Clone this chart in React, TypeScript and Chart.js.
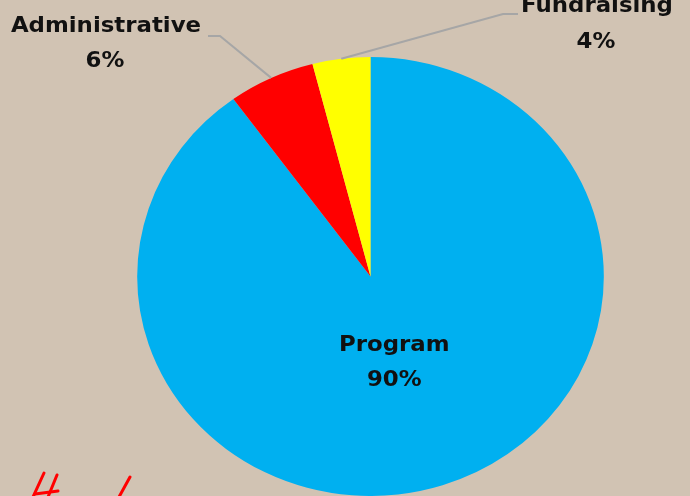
import React, { useEffect, useRef } from "react";
import { Chart, registerables } from "chart.js";

Chart.register(...registerables);

const categories = ["Program", "Administrative", "Fundraising"];
const values = [90, 6, 4];
const percentLabels = ["90%", "6%", "4%"];
const colors = ["#00b0f0", "#ff0000", "#ffff00"];

const BG = "#d1c3b3";
const SX = 1.063;

const stretchPlugin = {
  id: "stretch",
  beforeDatasetsDraw(chart: any) {
    const { ctx, chartArea } = chart;
    const cx = (chartArea.left + chartArea.right) / 2;
    ctx.save();
    ctx.translate(cx, 0);
    ctx.scale(SX, 1);
    ctx.translate(-cx, 0);
  },
  afterDatasetsDraw(chart: any) {
    chart.ctx.restore();
  },
};

const labelPlugin = {
  id: "labels",
  afterDraw(chart: any) {
    const { ctx } = chart;
    const meta = chart.getDatasetMeta(0);
    const font = "bold 21.5px 'DejaVu Sans', sans-serif";
    const pt = (arc: any, frac: number) => {
      const mid = (arc.startAngle + arc.endAngle) / 2;
      const r = arc.outerRadius * frac;
      return { x: arc.x + Math.cos(mid) * r * SX, y: arc.y + Math.sin(mid) * r };
    };
    const text = (t: string, x: number, y: number) => {
      ctx.save();
      ctx.translate(x, y);
      ctx.scale(SX, 1);
      ctx.fillText(t, 0, 0);
      ctx.restore();
    };
    ctx.save();
    ctx.fillStyle = "#111111";
    ctx.textAlign = "center";
    ctx.textBaseline = "middle";
    ctx.font = font;

    // Program label inside
    const p = pt(meta.data[0], 0.33);
    text(categories[0], p.x, p.y);
    text(percentLabels[0], p.x, p.y + 35);

    // leader lines
    ctx.strokeStyle = "#a6a6a6";
    ctx.lineWidth = 2;
    const a = pt(meta.data[1], 1.0);
    ctx.beginPath();
    ctx.moveTo(a.x, a.y);
    ctx.lineTo(220, 36);
    ctx.lineTo(208, 36);
    ctx.stroke();
    const f = pt(meta.data[2], 1.0);
    ctx.beginPath();
    ctx.moveTo(f.x, f.y);
    ctx.lineTo(503, 14);
    ctx.lineTo(518, 14);
    ctx.stroke();

    text(categories[1], 106, 26);
    text(percentLabels[1], 105, 61);
    text(categories[2], 597, 6);
    text(percentLabels[2], 596, 42);

    // red handwriting marks
    ctx.strokeStyle = "#ff0000";
    ctx.lineWidth = 3;
    ctx.lineCap = "round";
    const strokes = [
      [44, 473, 33, 497],
      [57, 475, 48, 497],
      [35, 494, 58, 491],
      [130, 477, 119, 497],
    ];
    for (const s of strokes) {
      ctx.beginPath();
      ctx.moveTo(s[0], s[1]);
      ctx.lineTo(s[2], s[3]);
      ctx.stroke();
    }
    ctx.restore();
  },
};

export default function App() {
  const ref = useRef<HTMLCanvasElement>(null);
  useEffect(() => {
    if (!ref.current) return;
    const chart = new Chart(ref.current, {
      type: "pie",
      data: {
        labels: categories,
        datasets: [
          {
            data: values,
            backgroundColor: colors,
            borderWidth: 0,
            clip: false as any,
          },
        ],
      },
      options: {
        responsive: false,
        animation: false,
        layout: { padding: { left: 151, right: 100, top: 57, bottom: 0 } },
        plugins: {
          legend: { display: false },
          tooltip: { enabled: false },
        },
      },
      plugins: [stretchPlugin, labelPlugin],
    });
    return () => chart.destroy();
  }, []);
  return (
    <div style={{ position: "fixed", left: 0, top: 0, width: 690, height: 496, background: BG }}>
      <canvas ref={ref} width={690} height={496} style={{ display: "block" }} />
    </div>
  );
}
